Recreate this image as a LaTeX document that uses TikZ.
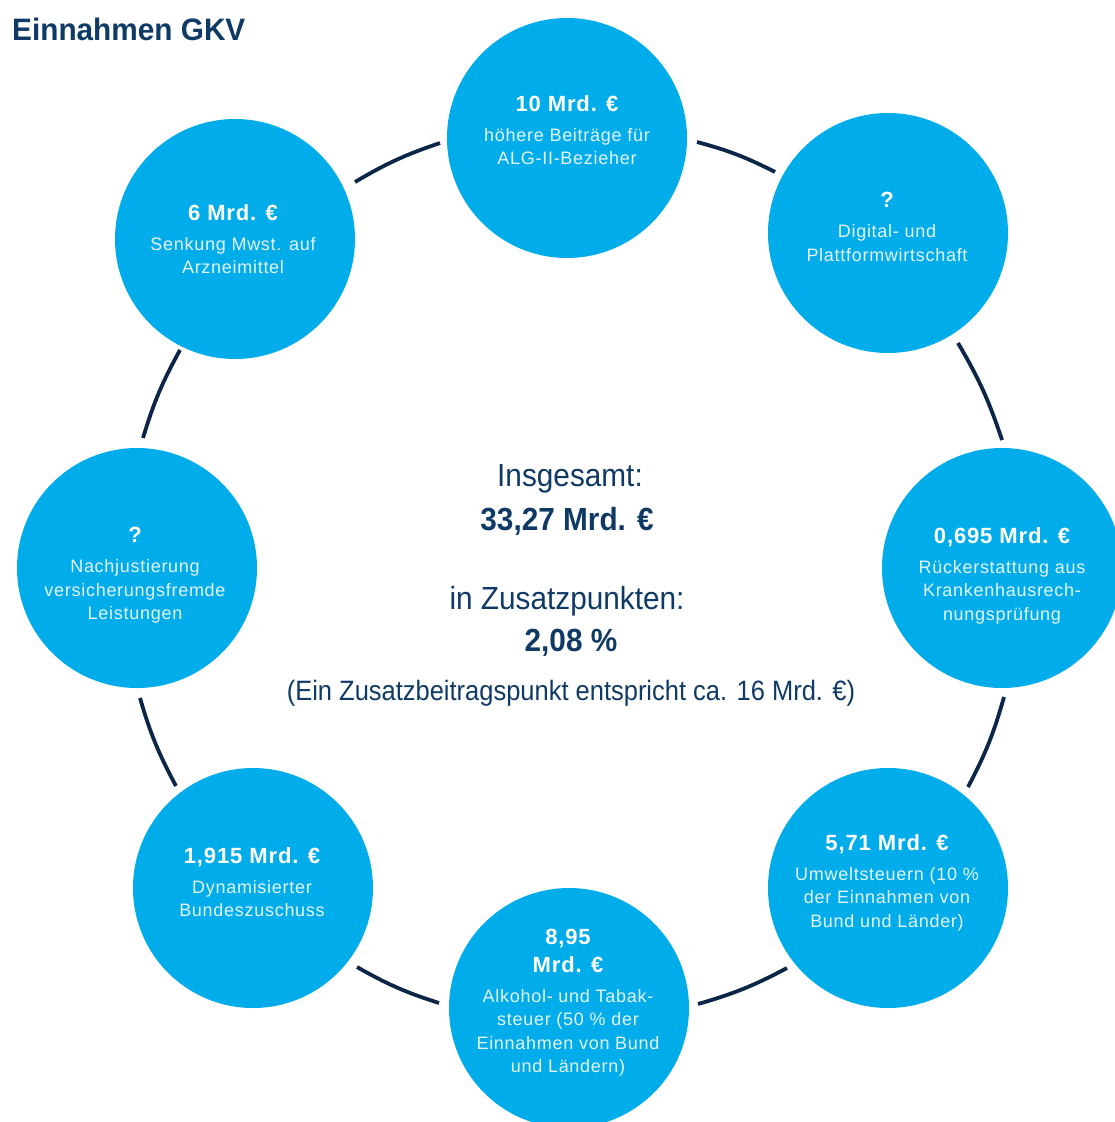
\documentclass[tikz,border=0pt]{standalone}
\usepackage{fontspec}
\setmainfont{Liberation Sans}
\newfontfamily\circfont[LetterSpace=4]{Liberation Sans}
\newfontfamily\condfont[FakeStretch=0.93]{Liberation Sans}
\newfontfamily\parenfont[FakeStretch=0.91]{Liberation Sans}
\newfontfamily\headfont[FakeStretch=0.96]{Liberation Sans}
\definecolor{bubblecyan}{RGB}{0,173,234}
\definecolor{navy}{RGB}{16,58,102}
\definecolor{linenavy}{RGB}{12,38,72}
\definecolor{bodywhite}{RGB}{228,245,252}
\tikzset{
  bubble/.style={circle, fill=bubblecyan, minimum size=240pt, inner sep=0pt},
  btext/.style={anchor=north, align=center, inner sep=0pt, text=bodywhite,
    font=\circfont\fontsize{18}{23.5}\selectfont},
  conn/.style={draw=linenavy, line width=3.8pt, bend left=6},
  midtext/.style={anchor=base, inner sep=0pt, text=navy},
}
\newcommand\ttl[1]{{\color{white}\fontsize{22}{28}\selectfont\bfseries #1}}
\begin{document}
\begin{tikzpicture}[x=1pt,y=1pt]
\useasboundingbox (0,0) rectangle (1115,-1122);
\clip (0,0) rectangle (1115,-1122);
\fill[white] (0,0) rectangle (1115,-1122);

\node[anchor=base west, inner sep=0pt, text=navy,
  font=\headfont\bfseries\fontsize{31}{36}\selectfont] (title) at (12,-40) {Einnahmen GKV};

% bubbles
\node[bubble] (t)  at (567,-138) {};
\node[bubble] (tr) at (888,-233) {};
\node[bubble] (r)  at (1002,-568) {};
\node[bubble] (br) at (888,-888) {};
\node[bubble] (b)  at (569,-1008) {};
\node[bubble] (bl) at (253,-888) {};
\node[bubble] (l)  at (137,-568) {};
\node[bubble] (tl) at (235,-239) {};

% connectors (short arcs of the outer ring, leaving a gap at each bubble)
\draw[conn] ([shift={(120,57)}]tl.center)   to ([shift={(-127,-5)}]t.center);
\draw[conn] ([shift={(130,-4)}]t.center)    to ([shift={(-113,61)}]tr.center);
\draw[conn] ([shift={(70,-110)}]tr.center)  to ([shift={(0,128)}]r.center);
\draw[conn] ([shift={(2,-129)}]r.center)    to ([shift={(80,101)}]br.center);
\draw[conn] ([shift={(-101,-80)}]br.center) to ([shift={(129,4)}]b.center);
\draw[conn] ([shift={(-130,5)}]b.center)    to ([shift={(104,-79)}]bl.center);
\draw[conn] ([shift={(-77,102)}]bl.center)  to ([shift={(3,-130)}]l.center);
\draw[conn] ([shift={(6,130)}]l.center)     to ([shift={(-55,-111)}]tl.center);

% bubble texts
\node[btext] (tt) at (567,-95) {\ttl{10 Mrd. €}\\[6.5pt]höhere Beiträge für\\ALG-II-Bezieher};
\node[btext] (ttl) at (233,-204) {\ttl{6 Mrd. €}\\[6.5pt]Senkung Mwst. auf\\Arzneimittel};
\node[btext] (ttr) at (887,-192) {\ttl{?}\\[6.5pt]Digital- und\\Plattformwirtschaft};
\node[btext] (tr2) at (1002,-527) {\ttl{0,695 Mrd. €}\\[6.5pt]Rückerstattung aus\\Krankenhausrech-\\nungsprüfung};
\node[btext] (tl2) at (135,-527) {\ttl{?}\\[6.5pt]Nachjustierung\\versicherungsfremde\\Leistungen};
\node[btext] (tbl) at (252,-847) {\ttl{1,915 Mrd. €}\\[6.5pt]Dynamisierter\\Bundeszuschuss};
\node[btext] (tbr) at (887,-834) {\ttl{5,71 Mrd. €}\\[6.5pt]Umweltsteuern (10 \%\\der Einnahmen von\\Bund und Länder)};
\node[btext] (tb) at (568,-929) {\ttl{8,95}\\[4.5pt]\ttl{Mrd. €}\\[6pt]Alkohol- und Tabak-\\steuer (50 \% der\\Einnahmen von Bund\\und Ländern)};

% centre
\node[midtext, font=\condfont\fontsize{32}{38}\selectfont] (c1) at (570,-486) {Insgesamt:};
\node[midtext, font=\condfont\bfseries\fontsize{32}{38}\selectfont] (c2) at (567,-530) {33,27 Mrd. €};
\node[midtext, font=\condfont\fontsize{32}{38}\selectfont] (c3) at (567,-609) {in Zusatzpunkten:};
\node[midtext, font=\condfont\bfseries\fontsize{32}{38}\selectfont] (c4) at (571,-651) {2,08 \%};
\node[midtext, font=\parenfont\fontsize{28}{34}\selectfont] (c5) at (571,-700) {(Ein Zusatzbeitragspunkt entspricht ca. 16 Mrd. €)};
\end{tikzpicture}
\end{document}
